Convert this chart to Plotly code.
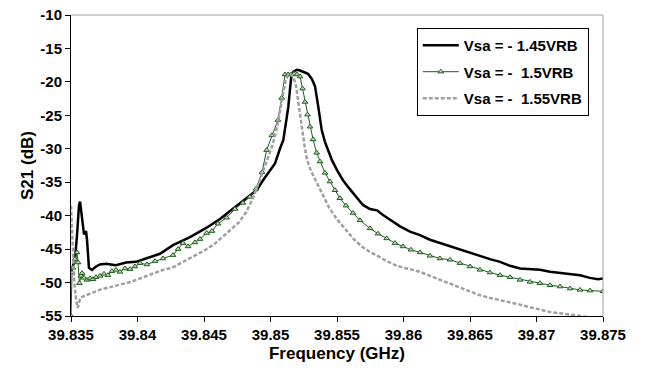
import plotly.graph_objects as go

# ---- data ----
freq_145 = [39.8350, 39.83515, 39.8353, 39.83545, 39.8356, 39.83568, 39.83583, 39.83598, 39.83613, 39.8362,
            39.83635, 39.83658, 39.83688, 39.83718, 39.83763, 39.83838, 39.83914, 39.83989, 39.84064, 39.84169,
            39.84267, 39.84395, 39.84520, 39.84620, 39.84696, 39.84771, 39.84846, 39.84896, 39.84944, 39.84996,
            39.85034, 39.85071, 39.85096, 39.85117, 39.85134, 39.85147, 39.85159, 39.85177, 39.85199, 39.85222,
            39.85252, 39.85282, 39.85312, 39.85335, 39.85359, 39.85372, 39.85385, 39.85410, 39.85432, 39.85462,
            39.85500, 39.85545, 39.85583, 39.85635, 39.85695, 39.85748, 39.85801, 39.85846, 39.85898, 39.85974,
            39.86049, 39.86124, 39.86199, 39.86274, 39.86350, 39.86425, 39.86500, 39.86575, 39.86650, 39.86726,
            39.86801, 39.86876, 39.86951, 39.87026, 39.87102, 39.87177, 39.87252, 39.87327, 39.87402, 39.87462,
            39.8750]
s21_145 = [-48.5, -47.5, -46.5, -43.0, -38.5, -37.9, -40.5, -42.8, -42.3, -43.5,
           -47.8, -48.1, -47.6, -47.3, -47.2, -47.4, -47.0, -46.9, -46.4, -45.7,
           -44.4, -43.2, -41.8, -40.5, -39.3, -38.1, -37.0, -36.2, -34.7, -33.2,
           -32.2, -30.0, -28.7, -26.0, -23.7, -21.0, -18.8, -18.4, -18.2, -18.3,
           -18.5, -18.8, -19.6, -20.7, -23.7, -25.5, -27.2, -29.0, -30.2, -31.7,
           -33.2, -34.7, -35.7, -37.0, -38.4, -39.0, -39.2, -39.9, -40.6, -41.6,
           -42.4, -42.9, -43.6, -44.1, -44.6, -45.1, -45.6, -46.1, -46.5, -46.9,
           -47.5, -47.9, -48.0, -48.1, -48.4, -48.6, -48.8, -48.9, -49.3, -49.5,
           -49.4]

freq_150 = [39.8350, 39.83508, 39.83515, 39.8353, 39.83545, 39.83553, 39.83563, 39.83575, 39.83583, 39.83598,
            39.8362, 39.83643, 39.83665, 39.83688, 39.83718, 39.83748, 39.83778, 39.83808, 39.83838, 39.83868,
            39.83906, 39.83944, 39.83981, 39.84019, 39.84071, 39.84132, 39.84192, 39.84267, 39.84305, 39.84342,
            39.84380, 39.84432, 39.84470, 39.84520, 39.84560, 39.84605, 39.84670, 39.84733, 39.84793, 39.84846,
            39.84891, 39.84936, 39.84971, 39.85011, 39.85056, 39.85084, 39.85109, 39.85132, 39.85154, 39.85177,
            39.85199, 39.85222, 39.85241, 39.85259, 39.85278, 39.85297, 39.85320, 39.85347, 39.85372, 39.85410,
            39.85447, 39.85485, 39.85522, 39.85568, 39.85620, 39.85673, 39.85748, 39.85808, 39.85874, 39.85936,
            39.85996, 39.86056, 39.86124, 39.86199, 39.86274, 39.86350, 39.86425, 39.86500, 39.86575, 39.86650,
            39.86726, 39.86801, 39.86876, 39.86951, 39.87026, 39.87102, 39.87177, 39.87252, 39.87327, 39.87402,
            39.8750]
s21_150 = [-55.0, -48.5, -47.8, -46.5, -45.5, -47.0, -50.1, -49.0, -48.6, -49.3,
           -49.6, -49.4, -49.5, -49.2, -49.0, -48.7, -48.9, -48.3, -48.1, -48.4,
           -47.9, -48.0, -47.6, -47.1, -47.3, -46.8, -46.4, -45.9, -45.0, -44.1,
           -44.6, -44.0, -43.5, -42.6, -42.3, -41.2, -40.3, -39.0, -38.1, -37.2,
           -36.0, -33.5, -30.2, -28.0, -25.7, -22.4, -18.9, -18.9, -18.9, -18.8,
           -18.9, -19.2, -21.0, -23.0, -24.9, -26.7, -28.6, -30.6, -31.9, -33.6,
           -34.9, -36.2, -37.4, -38.5, -39.6, -40.7, -41.9, -42.7, -43.4, -44.1,
           -44.6, -45.1, -45.5, -46.0, -46.4, -46.6, -47.1, -47.6, -48.1, -48.5,
           -48.9, -49.2, -49.6, -49.9, -50.1, -50.4, -50.6, -50.9, -51.1, -51.2,
           -51.3]

freq_155 = [39.8350, 39.83508, 39.83515, 39.83525, 39.83538, 39.83550, 39.83560, 39.83571, 39.83588, 39.83620,
            39.83665, 39.83712, 39.83770, 39.83830, 39.83891, 39.83951, 39.84004, 39.84056, 39.84124, 39.84192,
            39.84259, 39.84327, 39.84387, 39.84447, 39.84512, 39.84575, 39.84635, 39.84688, 39.84763, 39.84816,
            39.84861, 39.84891, 39.84936, 39.84974, 39.85011, 39.85041, 39.85064, 39.85089, 39.85114, 39.85132,
            39.85152, 39.85169, 39.85189, 39.85214, 39.85239, 39.85259, 39.85276, 39.85304, 39.85339, 39.85376,
            39.85408, 39.85438, 39.85498, 39.85563, 39.85626, 39.85686, 39.85746, 39.85813, 39.85874, 39.85939,
            39.86001, 39.86071, 39.86124, 39.86199, 39.86274, 39.86350, 39.86425, 39.86500, 39.86575, 39.86650,
            39.86726, 39.86801, 39.86876, 39.86951, 39.87026, 39.87102, 39.87177, 39.87252, 39.87327, 39.87402,
            39.8750]
s21_155 = [-38.5, -42.6, -47.0, -50.0, -52.5, -53.8, -53.0, -52.3, -52.1, -51.8,
           -51.5, -51.1, -50.8, -50.5, -50.2, -49.9, -49.5, -49.1, -48.6, -48.1,
           -47.8, -47.1, -46.4, -45.8, -45.1, -44.3, -43.2, -42.3, -41.0, -39.5,
           -37.7, -36.2, -33.6, -31.7, -29.7, -27.5, -25.2, -22.2, -19.7, -19.0,
           -18.8, -19.3, -20.2, -23.7, -27.7, -30.0, -31.7, -33.3, -34.7, -36.2,
           -37.5, -38.7, -40.5, -42.1, -43.5, -44.6, -45.4, -46.1, -46.8, -47.4,
           -47.8, -48.1, -48.4, -49.0, -49.6, -50.2, -50.8, -51.4, -51.9, -52.3,
           -52.6, -53.0, -53.3, -53.7, -54.1, -54.4, -54.6, -54.8, -54.9, -55.2,
           -55.5]

x_ticks = [39.835, 39.84, 39.845, 39.85, 39.855, 39.86, 39.865, 39.87, 39.875]
x_ticktext = ["39.835", "39.84", "39.845", "39.85", "39.855", "39.86", "39.865", "39.87", "39.875"]
y_ticks = [-10, -15, -20, -25, -30, -35, -40, -45, -50, -55]
y_ticktext = ["-10", "-15", "-20", "-25", "-30", "-35", "-40", "-45", "-50", "-55"]

names = ["Vsa = - 1.45VRB", "Vsa = -\u00a0 1.5VRB", "Vsa = -\u00a0 1.55VRB"]

FONT = "Liberation Sans, Arial, sans-serif"

fig = go.Figure()
fig.add_trace(go.Scatter(x=freq_145, y=s21_145, mode="lines", name=names[0], legendgroup="a",
                         line=dict(color="black", width=2.5)))
fig.add_trace(go.Scatter(x=freq_150, y=s21_150, mode="lines+markers", name=names[1], legendgroup="b",
                         line=dict(color="#1d5e1d", width=1),
                         marker=dict(symbol="triangle-up", size=5, color="#bcd9b0",
                                     line=dict(color="#1d5e1d", width=1))))
fig.add_trace(go.Scatter(x=freq_155, y=s21_155, mode="lines", name=names[2], legendgroup="c",
                         line=dict(color="#a0a0a0", width=2.5, dash="4px,2px")))

fig.update_layout(
    width=645, height=372,
    margin=dict(l=71, r=42, t=15, b=56),
    paper_bgcolor="white", plot_bgcolor="white",
    font=dict(family=FONT, color="black"),
    showlegend=True,
    legend=dict(x=0.650, y=0.957, xanchor="left", yanchor="top",
                bgcolor="white", bordercolor="black", borderwidth=1,
                font=dict(family=FONT, size=15, color="black", weight="bold"),
                tracegroupgap=4, itemwidth=36),
    xaxis=dict(range=[39.835, 39.875], tickvals=x_ticks, ticktext=x_ticktext, automargin=False,
               showgrid=False, zeroline=False, showline=True, linecolor="black", linewidth=1,
               ticks="outside", ticklen=5, tickcolor="black",
               tickfont=dict(family=FONT, size=15, weight="bold"),
               title=dict(text="Frequency (GHz)", standoff=5,
                          font=dict(family=FONT, size=17, weight="bold"))),
    yaxis=dict(range=[-55, -10], tickvals=y_ticks, ticktext=y_ticktext, automargin=False,
               showgrid=False, zeroline=False, showline=True, linecolor="black", linewidth=1,
               ticks="outside", ticklen=5, tickcolor="black",
               tickfont=dict(family=FONT, size=15, weight="bold"),
               title=dict(text="S21 (dB)", standoff=2,
                          font=dict(family=FONT, size=17, weight="bold"))),
    shapes=[
        dict(type="line", xref="paper", yref="paper", x0=0, x1=1, y0=1, y1=1,
             line=dict(color="#a0a0a0", width=1)),
        dict(type="line", xref="paper", yref="paper", x0=1, x1=1, y0=0, y1=1,
             line=dict(color="#a0a0a0", width=1)),
    ],
)

fig.write_html("out.html")
